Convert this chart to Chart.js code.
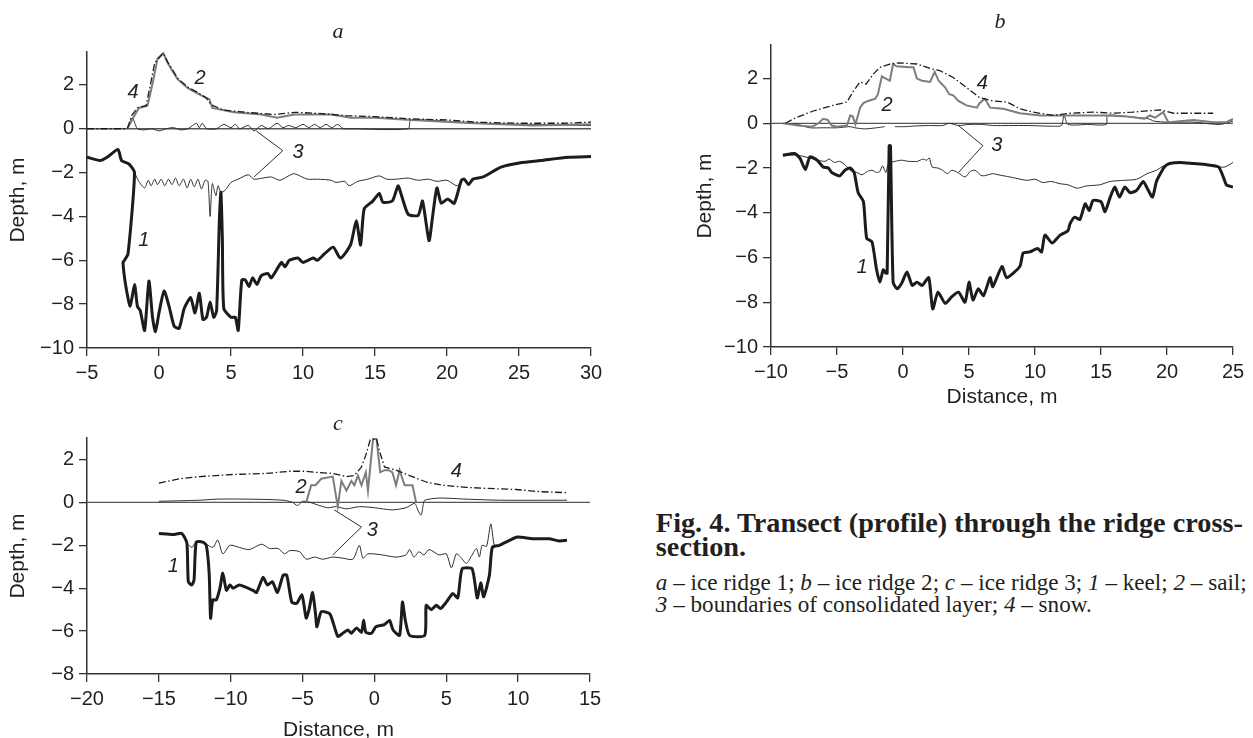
<!DOCTYPE html>
<html>
<head>
<meta charset="utf-8">
<script src="https://cdn.jsdelivr.net/npm/chart.js@4.4.1/dist/chart.umd.min.js"></script>
<style>
  body{margin:0;width:1253px;height:738px;background:#fff;position:relative;overflow:hidden;color:#231f20;}
  canvas{position:absolute;}
  .lbl{position:absolute;font-family:"Liberation Serif",serif;font-style:italic;font-size:22px;transform:translate(-50%,-50%);}
  .cap{position:absolute;white-space:nowrap;font-family:"Liberation Serif",serif;line-height:1;transform:translateY(-50%);}
  .bold{font-weight:bold;font-size:20px;}
  .reg{font-size:17px;}
</style>
</head>
<body>
<canvas id="chartA" width="630" height="400" style="left:0;top:0"></canvas>
<canvas id="chartB" width="563" height="420" style="left:690px;top:0"></canvas>
<canvas id="chartC" width="630" height="355" style="left:0;top:386px"></canvas>

<div class="lbl" style="left:338px;top:31px">a</div>
<div class="lbl" style="left:1000px;top:21px">b</div>
<div class="lbl" style="left:338px;top:423px">c</div>

<div class="cap bold" id="cap1" style="top:523px"><span id="capHead">Fig. 4. </span><span id="capRest">Transect (profile) through the ridge cross-</span></div>
<div class="cap bold" id="cap2" style="top:547px">section.</div>
<div class="cap reg" id="cap3" style="top:583px"><i>a</i> – ice ridge 1; <i>b</i> – ice ridge 2; <i>c</i> – ice ridge 3; <i>1</i> – keel; <i>2</i> – sail;</div>
<div class="cap reg" id="cap4" style="top:605px"><i>3</i> – boundaries of consolidated layer; <i>4</i> – snow.</div>

<script>
// ---- panel a : ice ridge 1 ----
const aXTicks = [-5, 0, 5, 10, 15, 20, 25, 30];
const aYTicks = [-10, -8, -6, -4, -2, 0, 2];
const aKeel = [[-5,-1.3],[-4.1,-1.45],[-3.6,-1.3],[-2.85,-0.95],[-2.6,-1.45],[-2.1,-1.6],[-1.7,-2.0],[-2.15,-5.7],[-2.4,-6.0],[-2.5,-6.1],
  [-2.3,-7.2],[-2.0,-8.1],[-1.7,-7.1],[-1.5,-8.1],[-1.3,-8.3],[-1.0,-9.2],[-0.7,-6.95],[-0.45,-8.6],[-0.25,-9.25],[0.0,-8.4],
  [0.35,-7.4],[0.7,-8.1],[1.05,-9.0],[1.4,-9.1],[1.75,-8.2],[2.2,-7.7],[2.5,-8.4],[2.8,-7.5],[3.05,-8.7],[3.3,-8.6],[3.55,-7.9],
  [3.8,-8.6],[4.0,-8.3],[4.2,-4.0],[4.3,-2.9],[4.4,-5.0],[4.5,-8.2],[5.0,-8.6],[5.3,-8.6],[5.5,-9.2],[5.75,-6.9],[6.0,-6.9],
  [6.25,-7.2],[6.5,-6.8],[6.8,-7.1],[7.1,-6.7],[7.55,-6.6],[7.8,-6.8],[8.5,-6.1],[8.75,-6.3],[9.05,-6.0],[9.65,-5.9],[10.0,-6.1],
  [10.7,-5.9],[11.0,-6.0],[11.5,-5.7],[12.1,-5.4],[12.6,-5.9],[13.3,-5.3],[13.7,-4.2],[14.0,-5.3],[14.25,-3.65],[14.85,-3.3],
  [15.3,-2.95],[15.55,-3.35],[16.2,-3.3],[16.6,-2.6],[16.8,-2.95],[17.3,-3.9],[18.0,-3.95],[18.3,-3.3],[18.75,-5.1],[19.0,-4.0],
  [19.3,-2.7],[19.6,-3.4],[20.05,-3.2],[20.5,-3.4],[21.0,-2.35],[21.2,-2.3],[21.5,-2.55],[21.8,-2.3],[22.5,-2.2],[23.75,-1.75],
  [25.1,-1.55],[26.5,-1.45],[28.4,-1.3],[30,-1.27]];
const aConsLow = [[-1.7,-2.0],[-1.4,-2.4],[-1.0,-2.7],[-0.75,-2.35],[-0.55,-2.6],[-0.3,-2.3],[-0.1,-2.55],[0.15,-2.3],[0.4,-2.6],
  [0.65,-2.3],[0.9,-2.55],[1.15,-2.25],[1.4,-2.6],[1.7,-2.3],[1.95,-2.7],[2.2,-2.3],[2.45,-2.65],[2.7,-2.3],[2.95,-2.75],[3.2,-2.35],
  [3.4,-2.4],[3.55,-4.0],[3.7,-2.5],[3.95,-3.05],[4.1,-2.6],[4.3,-2.9],[4.6,-2.8],[5.0,-2.45],[5.5,-2.3],[6.2,-2.1],[6.6,-2.3],
  [7.2,-2.25],[7.8,-2.2],[8.4,-2.35],[9.0,-2.15],[9.4,-2.05],[10.3,-2.3],[11.0,-2.3],[11.95,-2.35],[12.3,-2.45],[12.9,-2.4],
  [13.2,-2.6],[13.8,-2.4],[14.5,-2.3],[15.3,-2.15],[15.8,-2.3],[16.5,-2.3],[17.3,-2.25],[18.0,-2.35],[18.7,-2.3],[19.3,-2.4],
  [20.0,-2.35],[20.7,-2.6],[21.2,-2.3],[21.5,-2.5]];
const aConsTop = [[-2.2,0],[-1.85,0.5],[-1.5,0],[-1.0,-0.05],[-0.5,0.0],[0,-0.1],[0.5,0],[1.0,0.05],[1.5,-0.05],[2.0,0],[2.6,0.25],
  [2.8,0.05],[3.0,0.25],[3.3,0.0],[4.0,0.0],[4.5,0.2],[5.0,0.05],[5.3,0.2],[5.6,0.0],[6.2,0.15],[6.6,-0.1],[7.1,0.15],[7.6,0.0],
  [8.2,0.25],[8.6,0.05],[9.0,0.15],[9.5,0.05],[10.0,0.2],[10.4,0.05],[10.8,0.2],[11.2,0.05],[11.6,0.2],[12.0,0.05],[12.4,0.2],
  [12.8,0.0],[13.2,0.0],[17.3,0.0],[17.5,0.4],[22,0.25],[30,0.15]];
const aSail = [[-2.2,0],[-1.7,0.6],[-1.4,0.95],[-0.8,1.05],[-0.45,2.05],[-0.1,3.2],[0.3,3.45],[0.6,3.0],[1.3,2.25],[2.0,1.85],
  [2.7,1.6],[3.3,1.4],[3.5,1.35],[3.7,0.95],[5.2,0.75],[7.1,0.65],[8.2,0.5],[9.4,0.65],[12.0,0.65],[13.3,0.5],[15.0,0.5],
  [17.5,0.4],[21.9,0.25],[26.0,0.15],[30,0.2]];
const aSnow = [[-5,0],[-2.2,0],[-1.9,0.6],[-1.5,0.95],[-0.9,1.05],[-0.6,2.0],[-0.3,3.0],[0.3,3.45],[0.6,3.05],[1.3,2.3],[2.0,1.9],
  [2.7,1.65],[3.3,1.4],[3.6,1.1],[4.5,0.85],[6.0,0.75],[8.0,0.65],[9.5,0.75],[11.0,0.7],[13.0,0.6],[15.0,0.55],[17.5,0.45],
  [20.0,0.4],[22.0,0.3],[25.0,0.25],[28.0,0.25],[30,0.3]];
const aPointer = [[6.75,-0.1],[8.6,-1.0],[6.6,-2.2]];
const aNotes = [{t:'4', x:-1.8, y:1.64}, {t:'2', x:2.85, y:2.3}, {t:'1', x:-1.05, y:-5.1}, {t:'3', x:9.65, y:-1.1}];

// ---- panel b : ice ridge 2 ----
const bXTicks = [-10, -5, 0, 5, 10, 15, 20, 25];
const bYTicks = [-10, -8, -6, -4, -2, 0, 2];
const bKeel = [[-9.1,-1.43],[-8.2,-1.35],[-7.8,-1.57],[-7.4,-2.07],[-7.05,-1.5],[-6.5,-1.65],[-6.05,-1.95],[-5.65,-2.0],[-5.4,-2.2],
  [-4.8,-2.35],[-4.4,-2.1],[-4.0,-2.0],[-3.7,-2.2],[-3.4,-3.1],[-3.0,-3.5],[-2.75,-5.15],[-2.35,-5.3],[-2.0,-6.55],[-1.75,-7.1],
  [-1.5,-6.55],[-1.3,-6.7],[-1.2,-6.7],[-1.05,-1.0],[-0.95,-1.0],[-0.75,-7.1],[-0.45,-7.4],[-0.1,-7.15],[0.3,-6.65],[0.7,-7.25],
  [1.05,-7.1],[1.45,-7.25],[1.95,-6.9],[2.25,-8.3],[2.65,-7.55],[3.2,-8.05],[3.7,-7.75],[4.2,-7.55],[4.7,-8.0],[5.0,-7.1],
  [5.3,-7.9],[5.7,-7.4],[6.1,-7.7],[6.6,-6.9],[6.8,-7.3],[7.5,-6.4],[7.85,-6.9],[8.85,-6.4],[9.1,-5.8],[9.6,-5.75],[10.2,-5.6],
  [10.5,-5.75],[10.75,-5.0],[11.3,-5.35],[11.9,-5.0],[12.5,-4.8],[12.65,-4.5],[13.0,-4.2],[13.4,-4.3],[13.8,-3.6],[14.1,-3.9],
  [14.4,-3.45],[15.0,-3.5],[15.3,-3.95],[15.7,-3.3],[16.05,-2.85],[16.4,-3.3],[16.8,-2.85],[17.2,-3.1],[17.7,-3.0],[18.2,-2.6],
  [18.5,-2.9],[18.9,-3.3],[19.2,-2.6],[19.5,-2.25],[19.8,-1.95],[20.2,-1.8],[21.0,-1.75],[22.0,-1.8],[23.0,-1.85],[23.9,-1.95],
  [24.3,-2.45],[24.5,-2.75],[25,-2.85]];
const bConsLow = [[-9.1,-1.43],[-7.95,-1.43],[-6.45,-1.65],[-5.9,-1.7],[-5.6,-1.6],[-5.2,-1.75],[-4.8,-1.7],[-4.4,-1.85],[-4.0,-2.1],
  [-3.5,-2.2],[-3.1,-2.3],[-2.7,-2.15],[-2.35,-2.1],[-2.0,-2.2],[-1.75,-2.15],[-1.55,-1.9],[-1.3,-2.2],[-1.1,-1.8],[-0.6,-1.7],
  [-0.1,-1.65],[0.4,-1.7],[1.1,-1.7],[1.5,-1.6],[1.8,-1.65],[2.0,-1.55],[2.2,-1.95],[2.65,-2.0],[3.0,-2.1],[3.35,-2.25],[3.7,-2.1],
  [4.15,-2.2],[4.7,-2.4],[5.1,-2.15],[5.45,-2.1],[6.0,-2.35],[6.8,-2.25],[7.2,-2.3],[8.1,-2.4],[8.5,-2.45],[9.4,-2.55],[10.0,-2.5],
  [10.6,-2.65],[11.2,-2.6],[11.9,-2.7],[12.5,-2.75],[13.2,-2.9],[13.9,-2.8],[14.9,-2.75],[15.7,-2.6],[16.7,-2.55],[17.7,-2.5],
  [18.5,-2.25],[19.2,-2.1],[19.6,-1.95],[20.2,-1.8],[21.0,-1.75],[22.0,-1.8],[23.0,-1.85],[23.9,-1.95],[24.4,-1.95],[25,-1.75]];
const bConsTop = [[-9.1,0],[-8.0,-0.05],[-7.05,-0.2],[-6.0,-0.2],[-5.0,-0.2],[-4.0,-0.15],[-3.65,-0.2],[-2.9,-0.25],[-2.0,-0.2],
  [-1.4,-0.15],[-1.0,null],[-0.6,-0.15],[0.2,-0.15],[0.9,-0.12],[2.0,-0.1],[3.0,-0.1],[3.5,0.0],[4.2,-0.1],[5.0,-0.05],[6.0,-0.05],
  [6.8,-0.1],[8.0,-0.1],[9.5,-0.1],[11.4,-0.13],[12.0,-0.1],[12.2,0.35],[12.5,-0.05],[14.0,-0.05],[15.4,-0.05],[15.5,0.35],
  [17.0,0.3],[18.6,0.2],[19.0,0.1],[20.0,0.05],[22.0,0.05],[24.0,-0.05],[25,0.1]];
const bSail = [[-9.1,0],[-7.95,-0.1],[-6.9,-0.15],[-6.4,0],[-6.05,0.2],[-5.7,0.15],[-5.4,-0.1],[-5.0,-0.15],[-4.25,-0.1],[-4.0,0.35],
  [-3.8,0.3],[-3.6,-0.05],[-3.25,0.7],[-3.0,0.9],[-2.65,1.0],[-2.1,1.1],[-1.9,1.3],[-1.6,2.1],[-1.3,2.0],[-1.0,1.9],[-0.75,2.65],
  [-0.5,2.55],[0.5,2.5],[0.8,2.5],[1.05,2.0],[1.45,1.9],[2.05,1.85],[2.4,2.3],[2.7,1.9],[3.2,1.6],[3.5,1.3],[3.8,1.25],[4.2,1.0],
  [4.8,0.8],[5.6,0.7],[5.8,0.9],[6.2,1.1],[6.6,0.7],[7.6,0.65],[8.85,0.45],[10.4,0.35],[11.4,0.35],[13.0,0.35],[15.4,0.35],
  [17.0,0.3],[18.3,0.2],[18.7,0.35],[19.1,0.25],[19.7,0.5],[20.1,0.05],[22.0,0.15],[23.5,0.05],[24.5,0.05],[25,0.2]];
const bSnow = [[-8.9,0],[-8.3,0.2],[-6.8,0.55],[-5.3,0.8],[-4.25,0.95],[-3.8,1.4],[-3.25,1.85],[-2.8,1.75],[-2.25,2.2],[-1.75,2.5],
  [-1.0,2.65],[-0.25,2.7],[1.05,2.65],[2.05,2.45],[2.8,2.35],[3.8,2.05],[4.8,1.6],[5.8,1.15],[6.8,1.0],[7.9,0.95],[8.85,0.65],
  [9.85,0.5],[11.4,0.35],[12.65,0.45],[14.4,0.5],[15.9,0.45],[17.4,0.5],[19.5,0.6],[20.5,0.45],[23.5,0.45]];
const bPointer = [[4.2,-0.1],[6.05,-1.0],[4.2,-2.2]];
const bNotes = [{t:'2', x:-1.2, y:0.8}, {t:'4', x:6.0, y:1.8}, {t:'1', x:-3.1, y:-6.45}, {t:'3', x:7.1, y:-1.0}];

// ---- panel c : ice ridge 3 ----
const cXTicks = [-20, -15, -10, -5, 0, 5, 10, 15];
const cYTicks = [-8, -6, -4, -2, 0, 2];
const cKeel = [[-15,-1.45],[-14.0,-1.5],[-13.4,-1.45],[-13.05,-1.9],[-12.95,-3.7],[-12.7,-3.85],[-12.55,-3.6],[-12.4,-1.85],
  [-11.95,-1.85],[-11.7,-2.0],[-11.5,-3.3],[-11.4,-5.4],[-11.25,-4.55],[-11.0,-4.55],[-10.75,-4.0],[-10.55,-3.3],[-10.3,-4.1],
  [-10.05,-3.85],[-9.85,-4.0],[-9.4,-3.85],[-8.45,-4.1],[-8.2,-4.2],[-7.75,-3.5],[-7.45,-3.85],[-7.1,-3.7],[-6.75,-4.2],[-6.35,-3.4],
  [-6.1,-3.4],[-5.75,-4.65],[-5.4,-4.7],[-5.05,-4.3],[-4.9,-4.8],[-4.75,-5.4],[-4.55,-5.0],[-4.3,-4.2],[-4.1,-5.2],[-4.0,-5.8],
  [-3.7,-5.1],[-3.1,-5.2],[-2.55,-6.25],[-2.2,-6.1],[-1.85,-5.95],[-1.6,-6.1],[-1.25,-5.85],[-0.9,-6.05],[-0.75,-5.5],[-0.6,-6.05],
  [-0.2,-6.1],[0.1,-5.8],[0.7,-5.7],[1.05,-5.5],[1.3,-5.95],[1.75,-6.2],[1.95,-4.65],[2.15,-5.5],[2.45,-6.2],[3.5,-6.2],[3.6,-4.8],
  [3.95,-5.0],[4.3,-4.8],[4.6,-4.95],[5.0,-4.65],[5.45,-4.25],[5.8,-4.45],[6.1,-3.1],[6.8,-3.1],[7.15,-4.45],[7.4,-3.75],[7.6,-4.4],
  [8.0,-3.4],[8.2,-2.1],[8.7,-2.0],[9.4,-1.77],[9.95,-1.62],[11.0,-1.7],[12.15,-1.7],[12.85,-1.8],[13.4,-1.77]];
const cConsLow = [[-13.05,-1.9],[-12.7,-2.1],[-12.4,-1.85],[-11.95,-1.85],[-11.25,-2.1],[-10.9,-1.75],[-10.55,-2.4],[-10.05,-2.0],
  [-9.4,-2.1],[-8.7,-2.2],[-7.85,-1.95],[-7.3,-2.15],[-6.7,-2.15],[-6.25,-2.4],[-5.9,-2.25],[-5.2,-2.3],[-4.75,-2.65],[-4.15,-2.55],
  [-3.6,-2.65],[-2.9,-2.55],[-2.2,-2.6],[-1.5,-2.65],[-1.05,-2.0],[-0.8,-2.6],[-0.45,-2.4],[0.55,-2.45],[1.5,-2.55],[2.2,-2.45],
  [2.45,-2.2],[2.75,-2.55],[3.1,-2.3],[3.45,-2.45],[3.8,-2.2],[4.5,-2.45],[5.0,-2.4],[5.35,-3.05],[5.7,-2.4],[6.0,-2.55],[6.4,-2.85],
  [6.75,-2.5],[7.1,-2.15],[7.3,-2.55],[7.5,-2.0],[7.8,-2.05],[8.1,-1.0],[8.35,-2.0],[8.7,-2.0]];
const cConsTop = [[-15,0.05],[-12.15,0.1],[-11,0.15],[-8.7,0.15],[-6.35,0.1],[-5.7,0.0],[-5.35,-0.15],[-5.0,0.05],[-4.5,0.0],
  [-3.8,-0.15],[-3.25,-0.25],[-2.65,-0.2],[-1.95,-0.3],[-1.05,-0.2],[0,-0.25],[1.25,-0.35],[2.2,-0.25],[2.8,-0.05],[3.05,-0.4],
  [3.25,-0.6],[3.4,-0.1],[3.5,0.1],[4.5,0.2],[6.4,0.15],[8.7,0.1],[13.4,0.1]];
const cSail = [[-4.75,0],[-4.4,0.8],[-4.1,0.8],[-3.7,1.1],[-2.9,1.2],[-2.55,-0.2],[-2.3,1.0],[-1.95,0.55],[-1.6,1.0],[-1.4,0.8],
  [-1.15,1.25],[-0.9,0.8],[-0.6,1.4],[-0.45,0.55],[-0.1,2.95],[0.15,2.95],[0.4,1.4],[0.7,1.5],[1.0,1.5],[1.25,1.4],[1.5,0.8],
  [1.75,1.5],[2.1,0.8],[2.65,0.8],[2.9,0.0]];
const cSnow = [[-15,0.9],[-13.55,1.1],[-12.15,1.2],[-9.85,1.3],[-7.5,1.35],[-5.9,1.45],[-4.75,1.45],[-4.05,1.4],[-2.9,1.35],
  [-1.95,1.2],[-1.4,1.25],[-0.9,1.65],[-0.6,2.2],[-0.3,2.9],[0.15,2.95],[0.35,2.4],[0.7,1.65],[1.5,1.5],[2.45,1.25],[3.6,0.95],
  [4.7,0.8],[6.4,0.7],[7.8,0.65],[9.85,0.6],[11.45,0.5],[13.4,0.45]];
const cPointer = [[-2.8,-0.35],[-0.9,-1.15],[-2.9,-2.45]];
const cNotes = [{t:'2', x:-5.1, y:0.7}, {t:'4', x:5.7, y:1.45}, {t:'1', x:-14.0, y:-3.0}, {t:'3', x:-0.15, y:-1.3}];

const INK = '#231f20';
Chart.defaults.font.family = '"Liberation Sans", Arial, sans-serif';
Chart.defaults.color = INK;

const STYLE = {
  keel: {borderColor:'#1c1c1c', borderWidth:3, borderJoinStyle:'round', tension:0.2},
  snow: {borderColor:'#1c1c1c', borderWidth:1.3, borderDash:[7,2.5,1.5,2.5]},
  sail: {borderColor:'#7d7d7d', borderWidth:2},
  cons: {borderColor:'#2e2e2e', borderWidth:1, tension:0.25},
  zero: {borderColor:'#555555', borderWidth:1.3},
  ptr:  {borderColor:'#2e2e2e', borderWidth:1}
};

function line(pts, style){
  return Object.assign({
    data: pts.map(([x, y]) => ({x, y})),
    showLine: true, pointRadius: 0, tension: 0, fill: false, spanGaps: false
  }, STYLE[style]);
}

const fmt = v => (v < 0 ? '\u2212' + Math.abs(v) : String(v));

// italic curve numbers placed in data units
const notesPlugin = {
  id: 'notes',
  afterDatasetsDraw(chart, args, opts){
    const {ctx, scales:{x, y}} = chart;
    ctx.save();
    ctx.font = 'italic 20px "Liberation Sans", Arial, sans-serif';
    ctx.fillStyle = INK;
    ctx.textAlign = 'center';
    ctx.textBaseline = 'middle';
    (opts.items || []).forEach(n => ctx.fillText(n.t, x.getPixelForValue(n.x), y.getPixelForValue(n.y)));
    ctx.restore();
  }
};

function makePanel(id, p){
  const axisBase = {
    grid: {drawOnChartArea:false, drawTicks:true, tickLength:8, color:'#333', lineWidth:1.3},
    border: {display:true, color:'#333', width:1.5},
    ticks: {font:{size:20}, color:INK, padding:5, autoSkip:false, maxRotation:0, callback: v => fmt(v)}
  };
  new Chart(document.getElementById(id), {
    type: 'scatter',
    data: {
      datasets: [
        line(p.keel, 'keel'),
        line(p.snow, 'snow'),
        line(p.sail, 'sail'),
        line(p.consLow, 'cons'),
        line(p.consTop, 'cons'),
        line(p.pointer, 'ptr'),
        line([[p.xMin, 0], [p.xMax, 0]], 'zero')
      ]
    },
    options: {
      responsive: false,
      animation: false,
      events: [],
      layout: {padding: p.padding},
      plugins: {legend:{display:false}, tooltip:{enabled:false}, notes:{items:p.notes}},
      scales: {
        x: Object.assign({}, axisBase, {
          type: 'linear', min: p.xMin, max: p.xMax,
          afterBuildTicks: s => { s.ticks = p.xTicks.map(v => ({value:v})); },
          afterFit: s => { s.height = p.xHeight; },
          title: {display: !!p.xTitle, text: p.xTitle || '', font:{size:21, lineHeight:1}, color:INK, padding:{top:0, bottom:0}}
        }),
        y: Object.assign({}, axisBase, {
          type: 'linear', min: p.yMin, max: p.yMax,
          afterBuildTicks: s => { s.ticks = p.yTicks.map(v => ({value:v})); },
          afterFit: s => { s.width = p.yWidth; },
          title: {display:true, text:'Depth, m', font:{size:21, lineHeight:1}, color:INK, padding:{top:p.yTitlePad, bottom:0}}
        })
      }
    },
    plugins: [notesPlugin]
  });
}

makePanel('chartA', {
  xMin:-5, xMax:30, yMin:-10, yMax:3.5, xTicks:aXTicks, yTicks:aYTicks,
  yWidth:87, xHeight:40, yTitlePad:7.5, xTitle:null,
  padding:{left:0, right:39, top:52, bottom:12},
  keel:aKeel, snow:aSnow, sail:aSail, consLow:aConsLow, consTop:aConsTop, pointer:aPointer, notes:aNotes
});

makePanel('chartB', {
  xMin:-10, xMax:25, yMin:-10, yMax:3.5, xTicks:bXTicks, yTicks:bYTicks,
  yWidth:81, xHeight:61, yTitlePad:4.5, xTitle:'Distance, m',
  padding:{left:0, right:20, top:45, bottom:12},
  keel:bKeel, snow:bSnow, sail:bSail, consLow:bConsLow, consTop:bConsTop, pointer:bPointer, notes:bNotes
});

makePanel('chartC', {
  xMin:-20, xMax:15, yMin:-8, yMax:3, xTicks:cXTicks, yTicks:cYTicks,
  yWidth:87, xHeight:67, yTitlePad:7.5, xTitle:'Distance, m',
  padding:{left:0, right:40, top:52, bottom:0},
  keel:cKeel, snow:cSnow, sail:cSail, consLow:cConsLow, consTop:cConsTop, pointer:cPointer, notes:cNotes
});

// caption: fit the bold line so "Transect" starts at 737 and "cross-" ends at 1243
(function layoutCaption(){
  const rest = document.getElementById('capRest');
  const head = document.getElementById('capHead');
  let fs = 20;
  fs = fs * 506 / rest.getBoundingClientRect().width;
  ['cap1', 'cap2'].forEach(k => document.getElementById(k).style.fontSize = fs + 'px');
  const left = 737 - head.getBoundingClientRect().width;
  ['cap1', 'cap2', 'cap3', 'cap4'].forEach(k => document.getElementById(k).style.left = left + 'px');
  const cap3 = document.getElementById('cap3');
  let fr = 17 * (1247 - left) / cap3.getBoundingClientRect().width;
  ['cap3', 'cap4'].forEach(k => document.getElementById(k).style.fontSize = fr + 'px');
})();
</script>
</body>
</html>
